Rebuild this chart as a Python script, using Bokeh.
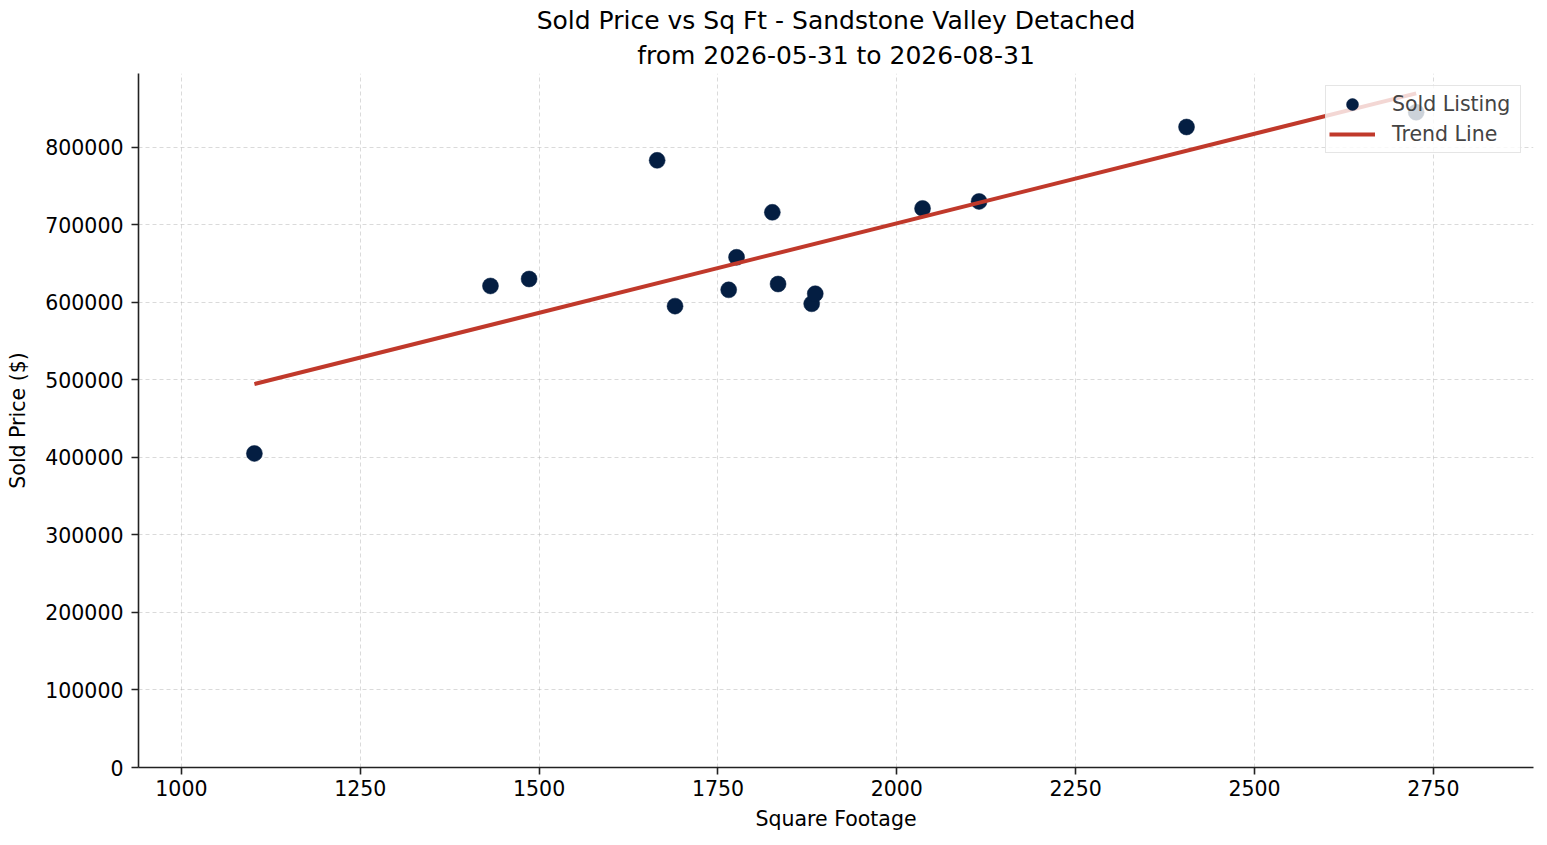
import numpy as np
from bokeh.plotting import figure
from bokeh.models import (Title, Legend, LegendItem, Range1d, FixedTicker,
                          BasicTickFormatter, ColumnDataSource)
from bokeh.embed import file_html
from bokeh.resources import INLINE

# ---- data ----
sqft = [1102, 1432, 1486, 1665, 1690, 1765, 1776, 1826, 1834, 1881, 1886, 2036, 2115, 2405, 2726]
price = [405000, 621000, 630000, 783000, 595000, 616000, 658000, 716000, 623500,
         598000, 611000, 721000, 730000, 826000, 845000]
x_ticks = [1000, 1250, 1500, 1750, 2000, 2250, 2500, 2750]
y_ticks = [0, 100000, 200000, 300000, 400000, 500000, 600000, 700000, 800000]
title_line1 = "Sold Price vs Sq Ft - Sandstone Valley Detached"
title_line2 = "from 2026-05-31 to 2026-08-31"
x_label = "Square Footage"
y_label = "Sold Price ($)"
legend_labels = ["Sold Listing", "Trend Line"]

# least-squares trend line over the listings
slope, intercept = np.polyfit(sqft, price, 1)
trend_x = [min(sqft), max(sqft)]
trend_y = [slope * x + intercept for x in trend_x]

FONT = "DejaVu Sans"
NAVY = "#041e42"
RED = "#c0392b"
TXT = "20.5px"

p = figure(width=1540, height=838, output_backend="svg", toolbar_location=None,
           x_range=Range1d(940, 2890), y_range=Range1d(0, 895000),
           min_border_left=138, min_border_right=7, min_border_bottom=71,
           min_border_top=73, title=None)
p.outline_line_color = None
p.background_fill_color = "white"
p.border_fill_color = "white"

# titles (last added sits on top)
t2 = Title(text=title_line2, align="center", text_font=FONT, text_font_size="25px",
           text_font_style="normal", text_color="#000000", standoff=8, offset=0)
t1 = Title(text=title_line1, align="center", text_font=FONT, text_font_size="25px",
           text_font_style="normal", text_color="#000000", standoff=0, offset=0)
p.add_layout(t2, "above")
p.add_layout(t1, "above")

src = ColumnDataSource(dict(x=sqft, y=price))
sc = p.scatter("x", "y", source=src, size=16, marker="circle",
               fill_color=NAVY, line_color=NAVY, line_width=0.5)
ln = p.line(trend_x, trend_y, line_color=RED, line_width=4)

# axes
for ax in (p.xaxis[0], p.yaxis[0]):
    ax.axis_line_color = "#222222"
    ax.axis_line_width = 1.6
    ax.major_tick_line_color = "#222222"
    ax.major_tick_line_width = 1.6
    ax.major_tick_out = 7
    ax.major_tick_in = 0
    ax.minor_tick_line_color = None
    ax.major_label_text_font = FONT
    ax.major_label_text_font_size = TXT
    ax.major_label_text_color = "#000000"
    ax.axis_label_text_font = FONT
    ax.axis_label_text_font_size = TXT
    ax.axis_label_text_font_style = "normal"
    ax.axis_label_text_color = "#000000"
    ax.formatter = BasicTickFormatter(use_scientific=False)

p.xaxis[0].ticker = FixedTicker(ticks=x_ticks)
p.yaxis[0].ticker = FixedTicker(ticks=y_ticks)
p.xaxis[0].axis_label = x_label
p.yaxis[0].axis_label = y_label
p.xaxis[0].major_label_standoff = 5
p.yaxis[0].major_label_standoff = 8
p.xaxis[0].axis_label_standoff = 8
p.yaxis[0].axis_label_standoff = 12

# grid
for g in (p.xgrid[0], p.ygrid[0]):
    g.grid_line_color = "#b0b0b0"
    g.grid_line_alpha = 0.6
    g.grid_line_width = 0.8
    g.grid_line_dash = "4 3"
p.xgrid[0].ticker = FixedTicker(ticks=x_ticks)
p.ygrid[0].ticker = FixedTicker(ticks=y_ticks)

legend = Legend(items=[LegendItem(label=legend_labels[0], renderers=[sc]),
                       LegendItem(label=legend_labels[1], renderers=[ln])],
                location="top_right", margin=12, padding=3, spacing=0,
                label_text_font=FONT, label_text_font_size=TXT,
                label_standoff=17, glyph_width=46, glyph_height=30,
                label_width=125, label_height=30,
                border_line_color="#cccccc", border_line_width=1.2,
                background_fill_color="white", background_fill_alpha=0.8)
p.add_layout(legend)

open("out.html", "w").write(file_html(p, INLINE))
